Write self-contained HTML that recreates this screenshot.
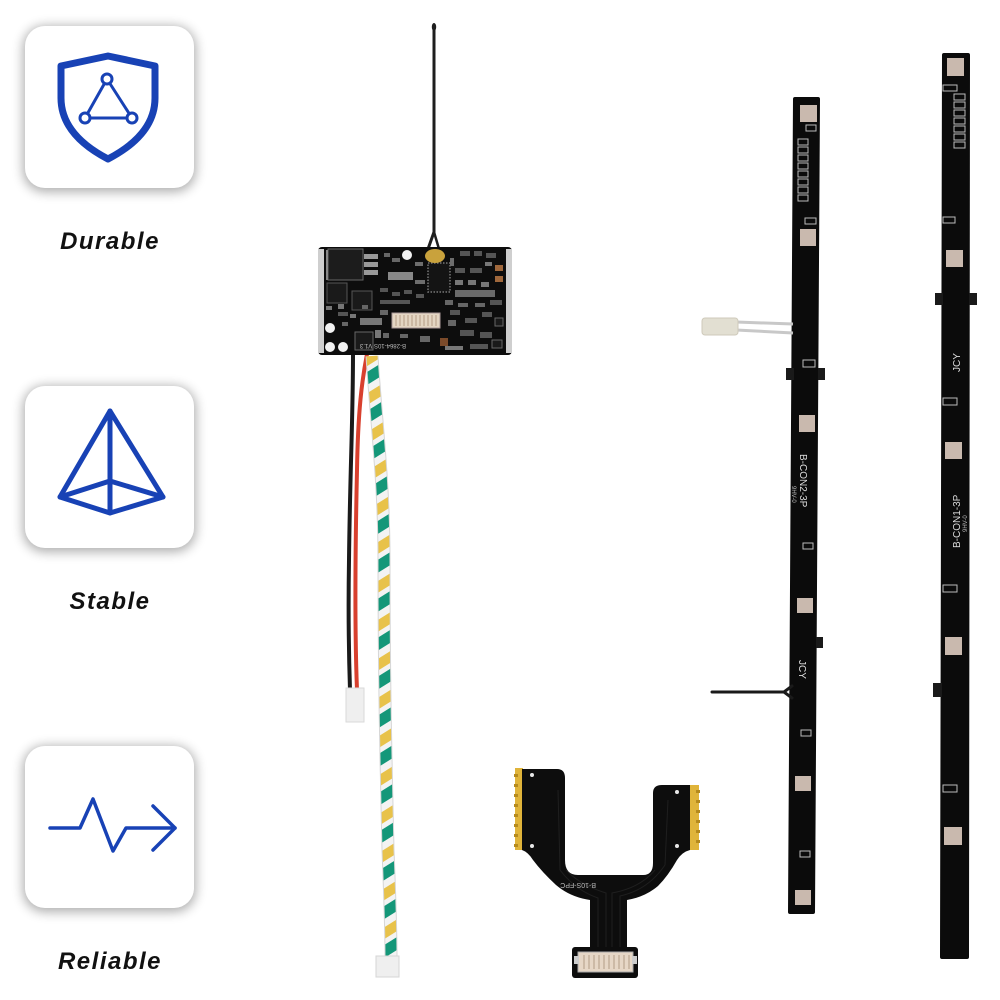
<!DOCTYPE html>
<html>
<head>
<meta charset="utf-8">
<style>
  html,body{margin:0;padding:0;background:#fff;}
  body{width:1000px;height:1000px;position:relative;overflow:hidden;font-family:"Liberation Sans",sans-serif;}
  .box{position:absolute;left:25px;width:169px;height:162px;border-radius:20px;background:#fff;
       box-shadow:0 2px 11px 2px rgba(0,0,0,0.32);}
  .lbl{position:absolute;left:0;width:220px;text-align:center;font-weight:bold;font-style:italic;
       font-size:24px;letter-spacing:1.5px;color:#111;line-height:28px;}
  svg.main{position:absolute;left:0;top:0;}
</style>
</head>
<body>
<div class="box" style="top:26px"></div>
<div class="box" style="top:386px"></div>
<div class="box" style="top:746px"></div>
<div class="lbl" style="top:228px">Durable</div>
<div class="lbl" style="top:588px">Stable</div>
<div class="lbl" style="top:948px">Reliable</div>

<svg class="main" width="1000" height="1000" viewBox="0 0 1000 1000" xmlns="http://www.w3.org/2000/svg">
  <defs>
    <pattern id="twp" patternUnits="userSpaceOnUse" width="40" height="33" patternTransform="rotate(-32)">
      <rect x="0" y="0" width="40" height="33" fill="#f3f3f3"/>
      <rect x="0" y="0" width="40" height="10" fill="#e8c24a"/>
      <rect x="0" y="15" width="40" height="11" fill="#149779"/>
    </pattern>
  </defs>
  <!-- ICONS -->
  <g fill="none" stroke="#1842b5" stroke-linecap="round" stroke-linejoin="round">
    <path d="M61,66 L108,56 L155,66 L155,98 C155,128 131,147 108,159 C85,147 61,128 61,98 Z" stroke-width="7"/>
    <path d="M107,79 L85,118 L132,118 Z" stroke-width="3"/>
    <circle cx="107" cy="79" r="5" fill="#fff" stroke-width="3"/>
    <circle cx="85" cy="118" r="5" fill="#fff" stroke-width="3"/>
    <circle cx="132" cy="118" r="5" fill="#fff" stroke-width="3"/>
    <g stroke-width="5">
      <path d="M110,411 L60,497 L110,513 L163,497 Z"/>
      <path d="M110,411 L110,513"/>
      <path d="M60,497 L110,481 L163,497"/>
    </g>
    <path d="M50,828 L80,828 L93,799 L113,851 L126,828 L175,828" stroke-width="3.5"/>
    <path d="M153,806 L175,828 L153,850" stroke-width="3.5"/>
  </g>

  <!-- ANTENNA -->
  <g stroke="#1e1e1e" fill="none" stroke-linecap="round">
    <path d="M434,26 L434,232 L428,249" stroke-width="3"/>
    <path d="M434,232 L439,249" stroke-width="2.5"/>
  </g>
  <ellipse cx="434" cy="27" rx="2.2" ry="4" fill="#1e1e1e"/>

  <!-- WIRES -->
  <path d="M353,353 C353,420 350,470 349,560 C348,620 349,660 350,690" stroke="#1a1a1a" stroke-width="4" fill="none"/>
  <path d="M367,354 C362,380 358,410 357,470 C355,560 355,640 357,690" stroke="#d8402e" stroke-width="4" fill="none"/>
  <rect x="346" y="688" width="18" height="34" fill="#efefef" stroke="#dadada" stroke-width="1"/>

  <path d="M372,356 C376,420 384,480 384,560 C384,680 386,760 388,850 C390,900 391,930 391,958" fill="none" stroke="#d6d6d6" stroke-width="13"/>
  <path d="M372,356 C376,420 384,480 384,560 C384,680 386,760 388,850 C390,900 391,930 391,958" fill="none" stroke="url(#twp)" stroke-width="11"/>
  <rect x="376" y="956" width="23" height="21" fill="#efefef" stroke="#d5d5d5" stroke-width="1"/>

  <!-- PCB BOARD -->
  <rect x="318" y="247" width="194" height="108" rx="4" fill="#0d0d0d"/>
  <rect x="318" y="249" width="6" height="104" fill="#cfcfcf"/>
  <rect x="506" y="249" width="6" height="104" fill="#cfcfcf"/>
  <g fill="#555">
    <rect x="328" y="249" width="35" height="31" fill="#1c1c1c" stroke="#666" stroke-width="1"/>
    <rect x="364" y="254" width="14" height="5" fill="#999"/>
    <rect x="364" y="262" width="14" height="5" fill="#999"/>
    <rect x="364" y="270" width="14" height="5" fill="#999"/>
    <rect x="327" y="283" width="20" height="20" fill="#1a1a1a" stroke="#555"/>
    <rect x="352" y="291" width="20" height="19" fill="#1a1a1a" stroke="#555"/>
    <rect x="428" y="263" width="22" height="29" fill="#141414" stroke="#777" stroke-width="1.5" stroke-dasharray="1.5 1.5"/>
    <rect x="388" y="272" width="25" height="8" fill="#888"/>
    <rect x="355" y="332" width="18" height="18" fill="#1a1a1a" stroke="#666"/>
    <rect x="495" y="265" width="8" height="6" fill="#a0683c"/>
    <rect x="495" y="276" width="8" height="6" fill="#a0683c"/>
    <rect x="460" y="251" width="10" height="5"/>
    <rect x="474" y="251" width="8" height="5"/>
    <rect x="486" y="253" width="10" height="5"/>
    <rect x="455" y="268" width="10" height="5"/>
    <rect x="470" y="268" width="12" height="5"/>
    <rect x="455" y="290" width="40" height="7" fill="#6a6a6a"/>
    <rect x="380" y="288" width="8" height="4"/>
    <rect x="392" y="292" width="8" height="4"/>
    <rect x="404" y="290" width="8" height="4"/>
    <rect x="416" y="294" width="8" height="4"/>
    <rect x="360" y="318" width="22" height="7" fill="#777"/>
    <rect x="450" y="310" width="10" height="5"/>
    <rect x="465" y="318" width="12" height="5"/>
    <rect x="482" y="312" width="10" height="5"/>
    <rect x="460" y="330" width="14" height="6"/>
    <rect x="480" y="332" width="12" height="6"/>
    <rect x="490" y="300" width="12" height="5"/>
    <rect x="440" y="338" width="8" height="8" fill="#7a4a2a"/>
    <rect x="380" y="300" width="30" height="4"/>
    <rect x="338" y="312" width="10" height="4"/>
    <rect x="470" y="344" width="18" height="5"/>
    <rect x="384" y="253" width="6" height="4" fill="#666"/>
    <rect x="392" y="258" width="8" height="4" fill="#666"/>
    <rect x="415" y="262" width="8" height="4" fill="#6d6d6d"/>
    <rect x="415" y="280" width="10" height="4" fill="#6d6d6d"/>
    <rect x="450" y="258" width="4" height="8" fill="#6d6d6d"/>
    <rect x="485" y="262" width="7" height="4" fill="#777"/>
    <rect x="455" y="280" width="8" height="5" fill="#777"/>
    <rect x="468" y="280" width="8" height="5" fill="#777"/>
    <rect x="481" y="282" width="8" height="5" fill="#777"/>
    <rect x="445" y="300" width="8" height="5" fill="#666"/>
    <rect x="458" y="303" width="10" height="4" fill="#666"/>
    <rect x="475" y="303" width="10" height="4" fill="#666"/>
    <rect x="495" y="318" width="8" height="8" fill="#1a1a1a" stroke="#666"/>
    <rect x="448" y="320" width="8" height="6" fill="#666"/>
    <rect x="445" y="346" width="18" height="4" fill="#777"/>
    <rect x="492" y="340" width="10" height="8" fill="#1a1a1a" stroke="#666"/>
    <rect x="375" y="330" width="6" height="8" fill="#777"/>
    <rect x="383" y="333" width="6" height="5" fill="#666"/>
    <rect x="338" y="304" width="6" height="5" fill="#777"/>
    <rect x="350" y="314" width="6" height="4" fill="#777"/>
    <rect x="362" y="305" width="6" height="4" fill="#666"/>
    <rect x="380" y="310" width="8" height="5" fill="#666"/>
    <rect x="326" y="306" width="6" height="4" fill="#777"/>
    <rect x="342" y="322" width="6" height="4" fill="#666"/>
    <rect x="420" y="336" width="10" height="6" fill="#666"/>
    <rect x="400" y="334" width="8" height="4" fill="#666"/>
    <rect x="326" y="250" width="2" height="30" fill="#888"/>
  </g>
  <rect x="392" y="313" width="48" height="15" fill="#e4d6c3" stroke="#a99" stroke-width="1"/>
  <g stroke="#b49c84" stroke-width="1">
    <line x1="396" y1="315" x2="396" y2="326"/><line x1="400" y1="315" x2="400" y2="326"/>
    <line x1="404" y1="315" x2="404" y2="326"/><line x1="408" y1="315" x2="408" y2="326"/>
    <line x1="412" y1="315" x2="412" y2="326"/><line x1="416" y1="315" x2="416" y2="326"/>
    <line x1="420" y1="315" x2="420" y2="326"/><line x1="424" y1="315" x2="424" y2="326"/>
    <line x1="428" y1="315" x2="428" y2="326"/><line x1="432" y1="315" x2="432" y2="326"/>
    <line x1="436" y1="315" x2="436" y2="326"/>
  </g>
  <circle cx="407" cy="255" r="5" fill="#f2f2f2"/>
  <ellipse cx="435" cy="256" rx="10" ry="7" fill="#c9a23c"/>
  <circle cx="330" cy="328" r="5" fill="#f2f2f2"/>
  <circle cx="330" cy="347" r="5" fill="#f2f2f2"/>
  <circle cx="343" cy="347" r="5" fill="#f2f2f2"/>
  <text x="406" y="348" font-family="Liberation Sans" font-size="6" fill="#bbb" transform="rotate(180 406 346)">B-2864-10S V1.3</text>

  <!-- MIDDLE STRIP -->
  <path d="M795,97 L818,97 Q820,97 820,99 L815,912 Q815,914 813,914 L790,914 Q788,914 788,912 L793,99 Q793,97 795,97 Z" fill="#0b0b0b"/>
  <rect x="786" y="368" width="8" height="12" fill="#1a1a1a"/>
  <rect x="818" y="368" width="7" height="12" fill="#1a1a1a"/>
  <rect x="816" y="637" width="7" height="11" fill="#1a1a1a"/>
  <g fill="#c9b9ae">
    <rect x="800" y="105" width="17" height="17"/>
    <rect x="800" y="229" width="16" height="17"/>
    <rect x="799" y="415" width="16" height="17"/>
    <rect x="797" y="598" width="16" height="15"/>
    <rect x="795" y="776" width="16" height="15"/>
    <rect x="795" y="890" width="16" height="15"/>
  </g>
  <g fill="none" stroke="#bbb" stroke-width="1">
    <rect x="806" y="125" width="10" height="6"/>
    <rect x="798" y="139" width="10" height="6"/><rect x="798" y="147" width="10" height="6"/>
    <rect x="798" y="155" width="10" height="6"/><rect x="798" y="163" width="10" height="6"/>
    <rect x="798" y="171" width="10" height="6"/><rect x="798" y="179" width="10" height="6"/>
    <rect x="798" y="187" width="10" height="6"/><rect x="798" y="195" width="10" height="6"/>
    <rect x="805" y="218" width="11" height="6"/>
    <rect x="803" y="360" width="12" height="7"/>
    <rect x="803" y="543" width="10" height="6"/>
    <rect x="801" y="730" width="10" height="6"/>
    <rect x="800" y="851" width="10" height="6"/>
  </g>
  <text x="800" y="454" font-family="Liberation Sans" font-size="10" fill="#ddd" transform="rotate(90 800 454)">B-CON2-3P</text>
  <text x="792" y="486" font-family="Liberation Sans" font-size="6" fill="#bbb" transform="rotate(90 792 486)">9HV-0</text>
  <text x="799" y="660" font-family="Liberation Sans" font-size="10" fill="#ddd" transform="rotate(90 799 660)">JCY</text>
  <line x1="736" y1="322" x2="793" y2="324" stroke="#c8c8c8" stroke-width="3"/>
  <line x1="736" y1="330" x2="793" y2="333" stroke="#c8c8c8" stroke-width="3"/>
  <rect x="702" y="318" width="36" height="17" rx="3" fill="#e2dfd2" stroke="#cfcabb"/>
  <path d="M712,692 L784,692 L792,686 M784,692 L792,698" stroke="#1a1a1a" stroke-width="3" fill="none" stroke-linecap="round"/>

  <!-- RIGHT STRIP -->
  <path d="M944,53 L968,53 Q970,53 970,55 L969,957 Q969,959 967,959 L942,959 Q940,959 940,957 L942,55 Q942,53 944,53 Z" fill="#0b0b0b"/>
  <rect x="935" y="293" width="8" height="12" fill="#1a1a1a"/>
  <rect x="969" y="293" width="8" height="12" fill="#1a1a1a"/>
  <rect x="933" y="683" width="9" height="14" fill="#1a1a1a"/>
  <g fill="#c9b9ae">
    <rect x="947" y="58" width="17" height="18"/>
    <rect x="946" y="250" width="17" height="17"/>
    <rect x="945" y="442" width="17" height="17"/>
    <rect x="945" y="637" width="17" height="18"/>
    <rect x="944" y="827" width="18" height="18"/>
  </g>
  <g fill="none" stroke="#bbb" stroke-width="1">
    <rect x="943" y="85" width="14" height="6"/>
    <rect x="954" y="94" width="11" height="6"/><rect x="954" y="102" width="11" height="6"/>
    <rect x="954" y="110" width="11" height="6"/><rect x="954" y="118" width="11" height="6"/>
    <rect x="954" y="126" width="11" height="6"/><rect x="954" y="134" width="11" height="6"/>
    <rect x="954" y="142" width="11" height="6"/>
    <rect x="943" y="217" width="12" height="6"/>
    <rect x="943" y="398" width="14" height="7"/>
    <rect x="943" y="585" width="14" height="7"/>
    <rect x="943" y="785" width="14" height="7"/>
  </g>
  <text x="960" y="372" font-family="Liberation Sans" font-size="10" fill="#ddd" transform="rotate(-90 960 372)">JCY</text>
  <text x="960" y="548" font-family="Liberation Sans" font-size="10" fill="#ddd" transform="rotate(-90 960 548)">B-CON1-3P</text>
  <text x="967" y="532" font-family="Liberation Sans" font-size="6" fill="#bbb" transform="rotate(-90 967 532)">9HV-0</text>

  <!-- FPC -->
  <rect x="515" y="768" width="8" height="82" fill="#e0b43a"/>
  <rect x="689" y="785" width="10" height="65" fill="#e0b43a"/>
  <g fill="#b58a1e">
    <rect x="514" y="774" width="4" height="3"/><rect x="514" y="784" width="4" height="3"/>
    <rect x="514" y="794" width="4" height="3"/><rect x="514" y="804" width="4" height="3"/>
    <rect x="514" y="814" width="4" height="3"/><rect x="514" y="824" width="4" height="3"/>
    <rect x="514" y="834" width="4" height="3"/><rect x="514" y="844" width="4" height="3"/>
    <rect x="696" y="790" width="4" height="3"/><rect x="696" y="800" width="4" height="3"/>
    <rect x="696" y="810" width="4" height="3"/><rect x="696" y="820" width="4" height="3"/>
    <rect x="696" y="830" width="4" height="3"/><rect x="696" y="840" width="4" height="3"/>
  </g>
  <path d="M522,769 L557,769 Q565,769 565,778 L565,860 Q565,875 578,875 L643,875 Q653,875 653,863 L653,793 Q653,785 662,785 L690,785 L690,850 Q682,852 677,860 Q668,876 658,886 Q645,897 627,900 L627,947 L590,947 L590,900 Q570,897 556,885 Q542,872 533,860 Q528,852 522,850 Z" fill="#0d0d0d"/>
  <g stroke="#1f1f1f" stroke-width="1" fill="none">
    <path d="M598,947 L598,898 Q575,890 560,870 L558,790"/>
    <path d="M606,947 L606,893 Q580,885 566,870"/>
    <path d="M612,947 L612,893 Q640,888 655,870"/>
    <path d="M620,947 L620,896 Q648,890 665,865 L668,800"/>
  </g>
  <g fill="#e8e8e8">
    <circle cx="532" cy="775" r="2"/><circle cx="532" cy="846" r="2"/>
    <circle cx="677" cy="792" r="2"/><circle cx="677" cy="846" r="2"/>
  </g>
  <text x="620" y="887" font-family="Liberation Sans" font-size="7" fill="#bbb" transform="rotate(180 608 885)">B-10S-FPC</text>
  <rect x="572" y="947" width="66" height="31" rx="3" fill="#0d0d0d"/>
  <rect x="578" y="952" width="55" height="20" fill="#e6d7c6" stroke="#aaa"/>
  <rect x="574" y="956" width="5" height="8" fill="#ccc"/>
  <rect x="632" y="956" width="5" height="8" fill="#ccc"/>
  <g stroke="#b39c85" stroke-width="1">
    <line x1="584" y1="955" x2="584" y2="969"/><line x1="589" y1="955" x2="589" y2="969"/>
    <line x1="594" y1="955" x2="594" y2="969"/><line x1="599" y1="955" x2="599" y2="969"/>
    <line x1="604" y1="955" x2="604" y2="969"/><line x1="609" y1="955" x2="609" y2="969"/>
    <line x1="614" y1="955" x2="614" y2="969"/><line x1="619" y1="955" x2="619" y2="969"/>
    <line x1="624" y1="955" x2="624" y2="969"/><line x1="629" y1="955" x2="629" y2="969"/>
  </g>
</svg>
</body>
</html>
